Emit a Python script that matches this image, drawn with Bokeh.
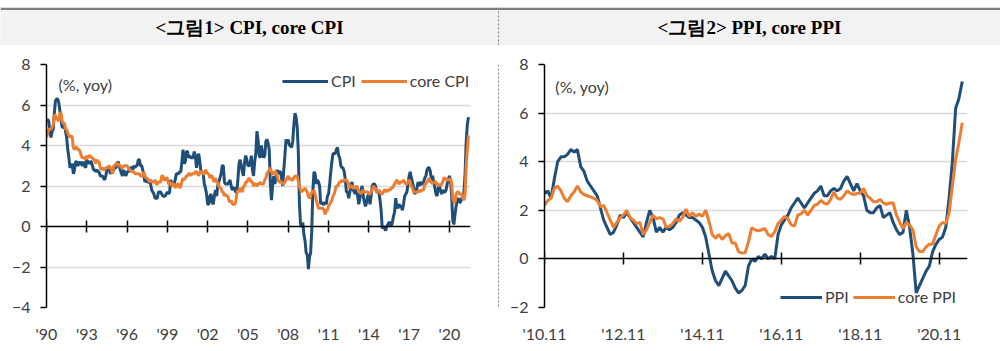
from bokeh.plotting import figure
from bokeh.layouts import column, row
from bokeh.models import (FixedTicker, LinearAxis, Span, Legend, LegendItem, Label,
                          Range1d, ColumnDataSource)
from bokeh.core.properties import value
from bokeh.embed import file_html
from bokeh.resources import INLINE

# ---------------- data ----------------
titles = ["<그림1> CPI, core CPI", "<그림2> PPI, core PPI"]
unit_note = "(%, yoy)"

# US CPI, % yoy, monthly from Jan 1990 to Jun 2021
cpi_start_year = 1990
cpi = [
    5.2, 5.3, 5.2, 4.7, 4.4, 4.7, 4.8, 5.6, 6.2, 6.3, 6.3, 6.1,
    5.7, 5.3, 4.9, 4.9, 5.0, 4.7, 4.4, 3.8, 3.4, 2.9, 3.0, 3.1,
    2.6, 2.8, 3.2, 3.2, 3.0, 3.1, 3.2, 3.1, 3.0, 3.2, 3.0, 2.9,
    3.3, 3.2, 3.1, 3.2, 3.2, 3.0, 2.8, 2.8, 2.7, 2.8, 2.7, 2.7,
    2.5, 2.5, 2.5, 2.4, 2.3, 2.5, 2.8, 2.9, 3.0, 2.6, 2.7, 2.7,
    2.8, 2.9, 2.9, 3.1, 3.2, 3.0, 2.8, 2.6, 2.5, 2.8, 2.6, 2.5,
    2.7, 2.7, 2.8, 2.9, 2.9, 2.8, 3.0, 2.9, 3.0, 3.0, 3.3, 3.3,
    3.0, 3.0, 2.8, 2.5, 2.2, 2.3, 2.2, 2.2, 2.2, 2.1, 1.8, 1.7,
    1.6, 1.4, 1.4, 1.4, 1.7, 1.7, 1.7, 1.6, 1.5, 1.5, 1.5, 1.6,
    1.7, 1.6, 1.7, 2.3, 2.1, 2.0, 2.1, 2.3, 2.6, 2.6, 2.6, 2.7,
    2.7, 3.2, 3.8, 3.1, 3.2, 3.7, 3.7, 3.4, 3.5, 3.4, 3.4, 3.4,
    3.7, 3.5, 2.9, 3.3, 3.6, 3.2, 2.7, 2.7, 2.6, 2.1, 1.9, 1.6,
    1.1, 1.1, 1.5, 1.6, 1.2, 1.1, 1.5, 1.8, 1.5, 2.0, 2.2, 2.4,
    2.6, 3.0, 3.0, 2.2, 2.1, 2.1, 2.1, 2.2, 2.3, 2.0, 1.8, 1.9,
    1.9, 1.7, 1.7, 2.3, 3.1, 3.3, 3.0, 2.7, 2.5, 3.2, 3.5, 3.3,
    3.0, 3.0, 3.1, 3.5, 2.8, 2.5, 3.2, 3.6, 4.7, 4.3, 3.5, 3.4,
    4.0, 3.6, 3.4, 3.5, 4.2, 4.3, 4.1, 3.8, 2.1, 1.3, 2.0, 2.5,
    2.1, 2.4, 2.8, 2.6, 2.7, 2.7, 2.4, 2.0, 2.8, 3.5, 4.3, 4.1,
    4.3, 4.0, 4.0, 3.9, 4.2, 5.0, 5.6, 5.4, 4.9, 3.7, 1.1, 0.1,
    0.0, 0.2, -0.4, -0.7, -1.3, -1.4, -2.1, -1.5, -1.3, -0.2, 1.8, 2.7,
    2.6, 2.1, 2.3, 2.2, 2.0, 1.1, 1.2, 1.1, 1.1, 1.2, 1.1, 1.5,
    1.6, 2.1, 2.7, 3.2, 3.6, 3.6, 3.6, 3.8, 3.9, 3.5, 3.4, 3.0,
    2.9, 2.9, 2.7, 2.3, 1.7, 1.7, 1.4, 1.7, 2.0, 2.2, 1.8, 1.7,
    1.6, 2.0, 1.5, 1.1, 1.4, 1.8, 2.0, 1.5, 1.2, 1.0, 1.2, 1.5,
    1.6, 1.1, 1.5, 2.0, 2.1, 2.1, 2.0, 1.7, 1.7, 1.7, 1.3, 0.8,
    -0.1, 0.0, -0.1, -0.2, 0.0, 0.1, 0.2, 0.2, 0.0, 0.2, 0.5, 0.7,
    1.4, 1.0, 0.9, 1.1, 1.0, 1.0, 0.8, 1.1, 1.5, 1.6, 1.7, 2.1,
    2.5, 2.7, 2.4, 2.2, 1.9, 1.6, 1.7, 1.9, 2.2, 2.0, 2.2, 2.1,
    2.1, 2.2, 2.4, 2.5, 2.8, 2.9, 2.9, 2.7, 2.3, 2.5, 2.2, 1.9,
    1.6, 1.5, 1.9, 2.0, 1.8, 1.6, 1.8, 1.7, 1.7, 1.8, 2.1, 2.3,
    2.5, 2.3, 1.5, 0.3, 0.1, 0.6, 1.0, 1.3, 1.4, 1.2, 1.2, 1.4,
    1.4, 1.7, 2.6, 4.2, 5.0, 5.4,
]
core_cpi = [
    4.4, 4.6, 4.8, 4.8, 4.8, 4.9, 5.0, 5.5, 5.5, 5.3, 5.3, 5.2,
    5.6, 5.6, 5.2, 5.1, 5.1, 4.8, 4.8, 4.6, 4.5, 4.4, 4.5, 4.4,
    3.9, 3.8, 3.9, 3.9, 3.8, 3.8, 3.7, 3.5, 3.4, 3.4, 3.4, 3.3,
    3.5, 3.4, 3.5, 3.5, 3.4, 3.4, 3.3, 3.3, 3.1, 3.3, 3.2, 3.2,
    2.9, 2.8, 2.9, 2.8, 2.8, 2.9, 2.9, 2.9, 3.0, 2.9, 2.8, 2.6,
    3.0, 3.0, 3.1, 3.1, 3.1, 3.0, 3.0, 2.9, 2.9, 3.0, 3.0, 3.0,
    3.0, 2.9, 2.8, 2.8, 2.7, 2.7, 2.7, 2.6, 2.6, 2.6, 2.6, 2.6,
    2.5, 2.5, 2.5, 2.7, 2.5, 2.4, 2.4, 2.3, 2.2, 2.3, 2.2, 2.2,
    2.2, 2.3, 2.1, 2.1, 2.2, 2.2, 2.2, 2.5, 2.5, 2.3, 2.3, 2.4,
    2.4, 2.1, 2.1, 2.2, 2.0, 2.1, 2.1, 1.9, 2.0, 2.1, 2.1, 1.9,
    2.0, 2.2, 2.4, 2.3, 2.4, 2.5, 2.5, 2.6, 2.6, 2.5, 2.6, 2.6,
    2.6, 2.7, 2.7, 2.6, 2.5, 2.7, 2.7, 2.7, 2.6, 2.6, 2.8, 2.7,
    2.6, 2.6, 2.4, 2.5, 2.5, 2.3, 2.2, 2.4, 2.2, 2.2, 2.0, 1.9,
    1.9, 1.7, 1.7, 1.5, 1.6, 1.5, 1.5, 1.3, 1.2, 1.3, 1.1, 1.1,
    1.1, 1.2, 1.6, 1.8, 1.7, 1.9, 1.8, 1.7, 2.0, 2.0, 2.2, 2.2,
    2.3, 2.4, 2.3, 2.2, 2.2, 2.0, 2.1, 2.1, 2.0, 2.1, 2.1, 2.2,
    2.1, 2.1, 2.1, 2.3, 2.4, 2.6, 2.7, 2.8, 2.9, 2.7, 2.6, 2.6,
    2.7, 2.7, 2.5, 2.3, 2.2, 2.2, 2.2, 2.1, 2.1, 2.2, 2.3, 2.4,
    2.5, 2.3, 2.4, 2.3, 2.3, 2.4, 2.5, 2.5, 2.5, 2.2, 2.0, 1.8,
    1.7, 1.8, 1.8, 1.9, 1.8, 1.7, 1.5, 1.4, 1.5, 1.7, 1.7, 1.8,
    1.6, 1.3, 1.1, 0.9, 0.9, 0.9, 0.9, 0.9, 0.8, 0.6, 0.8, 0.8,
    1.0, 1.1, 1.2, 1.3, 1.5, 1.6, 1.8, 2.0, 2.0, 2.1, 2.2, 2.2,
    2.3, 2.2, 2.3, 2.3, 2.3, 2.2, 2.1, 1.9, 2.0, 2.0, 1.9, 1.9,
    1.9, 2.0, 1.9, 1.7, 1.7, 1.6, 1.7, 1.8, 1.7, 1.7, 1.7, 1.7,
    1.6, 1.6, 1.7, 1.8, 2.0, 1.9, 1.9, 1.7, 1.7, 1.8, 1.7, 1.6,
    1.6, 1.7, 1.8, 1.8, 1.7, 1.8, 1.8, 1.8, 1.9, 1.9, 2.0, 2.1,
    2.2, 2.3, 2.2, 2.1, 2.2, 2.2, 2.2, 2.3, 2.2, 2.1, 2.1, 2.2,
    2.3, 2.2, 2.0, 1.9, 1.7, 1.7, 1.7, 1.7, 1.7, 1.8, 1.7, 1.8,
    1.8, 1.8, 2.1, 2.1, 2.2, 2.3, 2.4, 2.2, 2.2, 2.1, 2.2, 2.2,
    2.2, 2.1, 2.0, 2.1, 2.0, 2.1, 2.2, 2.4, 2.4, 2.3, 2.3, 2.3,
    2.3, 2.4, 2.1, 1.4, 1.2, 1.2, 1.6, 1.7, 1.7, 1.6, 1.6, 1.6,
    1.4, 1.3, 1.6, 3.0, 3.8, 4.5,
]
cpi_tick_years = [1990, 1993, 1996, 1999, 2002, 2005, 2008, 2011, 2014, 2017, 2020]
cpi_tick_labels = ["'90", "'93", "'96", "'99", "'02", "'05", "'08", "'11", "'14", "'17", "'20"]
cpi_y_ticks = [-4, -2, 0, 2, 4, 6, 8]

# US PPI (final demand), % yoy, monthly from Nov 2010 (month 0) to Jun 2021
ppi = [
    2.7, 2.8,
    2.5, 3.3, 4.0, 4.2, 4.2, 4.3, 4.5, 4.4, 4.5, 3.8, 3.6, 3.2,
    3.0, 2.8, 2.6, 2.1, 1.6, 1.3, 1.0, 1.1, 1.4, 1.8, 1.7, 1.9,
    1.7, 1.5, 1.3, 1.1, 0.9, 1.5, 2.0, 1.7, 1.1, 1.3, 1.1, 1.3,
    1.2, 1.3, 1.5, 1.8, 1.9, 1.8, 1.7, 1.7, 1.6, 1.5, 1.3, 0.9,
    0.2, -0.5, -0.9, -1.1, -0.8, -0.5, -0.7, -0.9, -1.2, -1.4, -1.3, -1.1,
    -0.3, 0.0, -0.1, 0.1, 0.0, 0.2, 0.0, 0.1, 0.0, 1.0, 1.4, 1.6,
    1.8, 2.1, 2.3, 2.5, 2.3, 2.1, 2.3, 2.5, 2.7, 2.8, 3.0, 2.6,
    2.6, 2.8, 2.9, 2.8, 2.9, 3.2, 3.4, 3.1, 2.8, 3.1, 2.8, 2.6,
    2.0, 1.9, 1.9, 2.1, 2.2, 1.7, 1.8, 1.9, 1.5, 1.2, 1.0, 1.1,
    2.0, 1.3, 0.2, -1.4, -1.1, -0.8, -0.5, -0.3, 0.3, 0.6, 0.8, 0.9,
    1.3, 2.5, 4.0, 6.2, 6.6, 7.3,
]
core_ppi = [
    2.2, 2.4,
    2.5, 2.9, 3.0, 2.8, 2.5, 2.35, 2.6, 2.75, 3.0, 2.75, 2.65, 2.6,
    2.55, 2.5, 2.4, 2.15, 2.2, 1.9, 1.6, 1.3, 1.5, 1.7, 1.8, 2.0,
    1.7, 1.6, 1.45, 1.5, 1.0, 1.2, 1.5, 1.8, 1.65, 1.7, 1.65, 1.3,
    1.35, 1.45, 1.65, 1.55, 1.7, 2.05, 1.75, 1.9, 1.75, 1.85, 1.75, 2.0,
    1.55, 1.0, 0.85, 1.0, 0.8, 0.95, 1.05, 0.65, 0.65, 0.3, 0.24, 0.25,
    0.7, 1.28, 1.2, 1.15, 1.2, 1.25, 1.0, 0.92, 1.12, 1.45, 1.6, 1.75,
    1.65, 1.4, 1.35, 1.8, 1.85, 2.0, 1.8, 2.0, 2.2, 2.25, 2.4, 2.3,
    2.25, 2.45, 2.75, 2.5, 2.45, 2.6, 2.8, 2.7, 2.65, 2.7, 2.7, 2.9,
    2.6, 2.5, 2.35, 2.35, 2.45, 2.3, 2.25, 2.3, 2.3, 1.8, 1.5, 1.25,
    1.5, 1.4, 1.2, 0.5, 0.3, 0.3, 0.5, 0.6, 0.6, 1.0, 1.35, 1.5,
    1.45, 1.9, 3.0, 4.1, 4.8, 5.6,
]
ppi_tick_months = [0, 24, 48, 72, 96, 120]
ppi_tick_labels = ["'10.11", "'12.11", "'14.11", "'16.11", "'18.11", "'20.11"]
ppi_y_ticks = [-2, 0, 2, 4, 6, 8]

# ---------------- style ----------------
BLUE = "#1F4E79"
ORANGE = "#ED7D31"
GRID = "#d9d9d9"
TXT = "#404040"
FONT = "Lato"
FS = "16px"
LW = 3


def make_panel(width, x_range, y_range, y_ticks, x_ticks, x_labels,
               mb_left, mb_right, mb_top, mb_bottom):
    p = figure(width=width, height=300, x_range=x_range, y_range=y_range,
               output_backend="svg", toolbar_location=None,
               min_border_left=mb_left, min_border_right=mb_right,
               min_border_top=mb_top, min_border_bottom=mb_bottom)
    p.background_fill_color = "white"
    p.border_fill_color = "white"
    p.outline_line_color = None
    p.xgrid.visible = False
    p.ygrid.ticker = FixedTicker(ticks=[t for t in y_ticks if t != 0])
    p.ygrid.grid_line_color = GRID
    p.ygrid.grid_line_width = 1.5

    ya = p.yaxis[0]
    ya.ticker = FixedTicker(ticks=y_ticks)
    ya.axis_line_color = "black"
    ya.axis_line_width = 1.5
    ya.major_tick_line_color = "black"
    ya.major_tick_line_width = 1.5
    ya.major_tick_out = 6
    ya.major_tick_in = 0
    ya.minor_tick_line_color = None
    ya.major_label_standoff = 10
    ya.major_label_text_font = FONT
    ya.major_label_text_font_size = FS
    ya.major_label_text_color = TXT

    xa = p.xaxis[0]
    xa.ticker = FixedTicker(ticks=x_ticks)
    xa.major_label_overrides = dict(zip(x_ticks, x_labels))
    xa.axis_line_color = None
    xa.major_tick_line_color = None
    xa.minor_tick_line_color = None
    xa.major_tick_out = 0
    xa.major_tick_in = 0
    xa.major_label_standoff = 16
    xa.major_label_text_font = FONT
    xa.major_label_text_font_size = FS
    xa.major_label_text_color = TXT

    za = LinearAxis(fixed_location=0, ticker=FixedTicker(ticks=x_ticks),
                    major_label_overrides={t: "" for t in x_ticks},
                    axis_line_color="black", axis_line_width=1.5,
                    major_tick_line_color="black", major_tick_line_width=1.5,
                    major_tick_in=6, major_tick_out=6,
                    minor_tick_line_color=None)
    p.add_layout(za, "below")
    return p


# ---------------- header ----------------
header = figure(width=1000, height=45, x_range=Range1d(0, 1000), y_range=Range1d(0, 38),
                output_backend="svg", toolbar_location=None,
                x_axis_location=None, y_axis_location=None,
                min_border_left=0, min_border_right=0, min_border_top=7, min_border_bottom=0)
header.grid.visible = False
header.background_fill_color = "#f2f2f2"
header.border_fill_color = "white"
header.outline_line_color = None
header.add_layout(Span(location=36.8, dimension="width", line_color="#7f7f7f", line_width=2.5))
header.add_layout(Span(location=498, dimension="height", line_color="#7f7f7f",
                       line_width=1, line_dash="2 2"))
header.text(x=[249, 749], y=[18, 18], text=titles,
            text_font=value("Liberation Serif"), text_font_style="bold",
            text_font_size="19px", text_align="center", text_baseline="middle",
            text_color="black")

# ---------------- left: CPI ----------------
cpi_x = [cpi_start_year + i / 12 for i in range(len(cpi))]
src_cpi = ColumnDataSource(dict(x=cpi_x, cpi=cpi, core=core_cpi))
left = make_panel(497, Range1d(1990, 2021.57), Range1d(-4, 8), cpi_y_ticks,
                  cpi_tick_years, cpi_tick_labels, 46, 27, 17, 38)
r1 = left.line("x", "cpi", source=src_cpi, line_color=BLUE, line_width=LW)
r2 = left.line("x", "core", source=src_cpi, line_color=ORANGE, line_width=LW)
leg1 = Legend(items=[LegendItem(label="CPI", renderers=[r1]),
                     LegendItem(label="core CPI", renderers=[r2])],
              orientation="horizontal", location=(236, 217),
              glyph_width=46, glyph_height=16, label_height=16, label_standoff=3,
              spacing=5, padding=0, margin=0,
              background_fill_alpha=0, border_line_color=None,
              label_text_font=FONT, label_text_font_size=FS, label_text_color=TXT)
left.add_layout(leg1)
left.add_layout(Label(x=1990.9, y=7.0, text=unit_note, text_baseline="middle",
                      text_font=FONT, text_font_size=FS, text_color=TXT))

# ---------------- separator ----------------
sep = figure(width=2, height=300, x_range=Range1d(0, 2), y_range=Range1d(0, 1),
             output_backend="svg", toolbar_location=None,
             x_axis_location=None, y_axis_location=None,
             min_border_left=0, min_border_right=0, min_border_top=0, min_border_bottom=0)
sep.grid.visible = False
sep.outline_line_color = None
sep.background_fill_color = "white"
sep.add_layout(Span(location=1, dimension="height", line_color="#7f7f7f",
                    line_width=1, line_dash="2 2"))

# ---------------- right: PPI ----------------
ppi_x = list(range(len(ppi)))
src_ppi = ColumnDataSource(dict(x=ppi_x, ppi=ppi, core=core_ppi))
right = make_panel(501, Range1d(0, 128.6), Range1d(-2, 8), ppi_y_ticks,
                   ppi_tick_months, ppi_tick_labels, 45, 33, 19, 35)
r3 = right.line("x", "ppi", source=src_ppi, line_color=BLUE, line_width=LW)
r4 = right.line("x", "core", source=src_ppi, line_color=ORANGE, line_width=LW)
leg2 = Legend(items=[LegendItem(label="PPI", renderers=[r3]),
                     LegendItem(label="core PPI", renderers=[r4])],
              orientation="horizontal", location=(236, 1),
              glyph_width=42, glyph_height=16, label_height=16, label_standoff=3,
              spacing=4, padding=0, margin=0,
              background_fill_alpha=0, border_line_color=None,
              label_text_font=FONT, label_text_font_size=FS, label_text_color=TXT)
right.add_layout(leg2)
right.add_layout(Label(x=3.3, y=7.1, text=unit_note, text_baseline="middle",
                       text_font=FONT, text_font_size=FS, text_color=TXT))

# ---------------- footer ----------------
footer = figure(width=1000, height=6, x_range=Range1d(0, 1), y_range=Range1d(0, 1),
                output_backend="svg", toolbar_location=None,
                x_axis_location=None, y_axis_location=None,
                min_border_left=0, min_border_right=0, min_border_top=0, min_border_bottom=3)
footer.grid.visible = False
footer.outline_line_color = None
footer.background_fill_color = "#8c8c8c"
footer.border_fill_color = "white"

layout = column(header, row(left, sep, right, spacing=0), footer, spacing=0)

with open("out.html", "w") as f:
    f.write(file_html(layout, INLINE))
